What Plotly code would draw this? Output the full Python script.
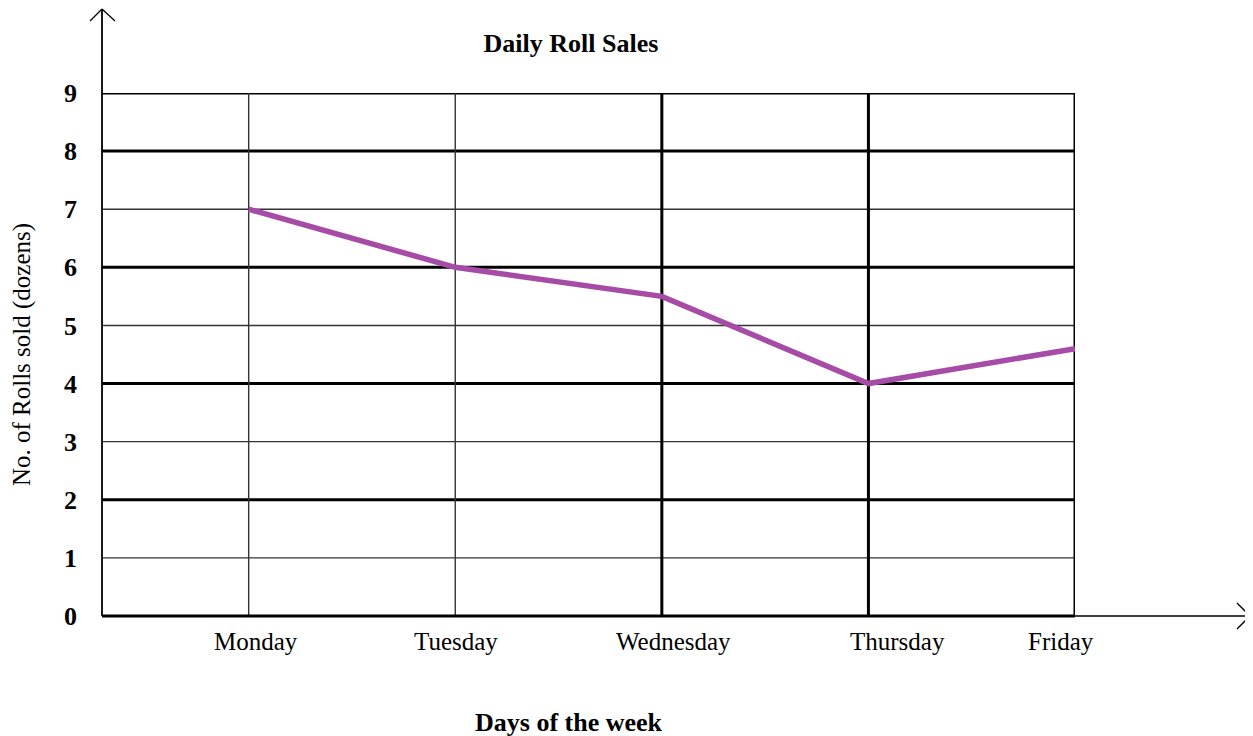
import plotly.graph_objects as go

days = ["Monday", "Tuesday", "Wednesday", "Thursday", "Friday"]
rolls = [7, 6, 5.5, 4, 4.6]
y_ticks = [0, 1, 2, 3, 4, 5, 6, 7, 8, 9]

# page has an 8px body margin, so work in shifted coordinates
OFF = 8
W, H = 1253 - OFF, 736 - OFF
L, R, T, B = 102 - OFF, 1075 - OFF, 93 - OFF, 616 - OFF
pw, ph = R - L, B - T

def px(x):
    return (x - OFF - L) / pw

def py(y):
    return (B - (y - OFF)) / ph

XRANGE = [-0.71, 4]

fig = go.Figure()
fig.add_trace(go.Scatter(
    x=days, y=rolls, mode="lines",
    line=dict(color="#A64CA6", width=5.5),
    showlegend=False, hoverinfo="x+y",
))

shapes = []
thick_y = {0, 2, 4, 6, 8, 9}
for v in y_ticks:
    if v == 0:
        continue
    shapes.append(dict(type="line", xref="paper", yref="y", x0=0, x1=1, y0=v, y1=v,
                       line=dict(color="black" if v in thick_y else "#333", width=3 if v in thick_y else 1.4),
                       layer="below"))
thick_x = {"Wednesday", "Thursday", "Friday"}
for d in days:
    shapes.append(dict(type="line", xref="x", yref="paper", x0=d, x1=d, y0=0, y1=1,
                       line=dict(color="black" if d in thick_x else "#333", width=3 if d in thick_x else 1.4),
                       layer="below"))
# x axis (bottom) thick
shapes.append(dict(type="line", xref="paper", yref="paper", x0=0, x1=1, y0=0, y1=0,
                   line=dict(color="black", width=3.2)))
# extension of x axis with arrow
shapes.append(dict(type="line", xref="paper", yref="paper", x0=1, x1=px(1250), y0=0, y1=0,
                   line=dict(color="black", width=1.3)))
shapes.append(dict(type="line", xref="paper", yref="paper", x0=px(1250), x1=px(1237), y0=0, y1=py(603),
                   line=dict(color="black", width=1.3)))
shapes.append(dict(type="line", xref="paper", yref="paper", x0=px(1250), x1=px(1237), y0=0, y1=py(629),
                   line=dict(color="black", width=1.3)))
# y axis with arrow
shapes.append(dict(type="line", xref="paper", yref="paper", x0=0, x1=0, y0=0, y1=py(9),
                   line=dict(color="black", width=1.8)))
shapes.append(dict(type="line", xref="paper", yref="paper", x0=0, x1=px(90), y0=py(9), y1=py(21),
                   line=dict(color="black", width=1.3)))
shapes.append(dict(type="line", xref="paper", yref="paper", x0=0, x1=px(115), y0=py(9), y1=py(21),
                   line=dict(color="black", width=1.3)))

font = "Liberation Serif, Times New Roman, serif"

# x category labels as annotations (the original labels are slightly off their gridlines)
label_shift = [7, 1, 12, 29, -14]
annotations = []
for d, s in zip(days, label_shift):
    annotations.append(dict(x=d, xref="x", y=py(641), yref="paper", text=d, showarrow=False,
                            xanchor="center", yanchor="middle", xshift=s,
                            font=dict(family=font, size=25, color="black")))
annotations.append(dict(x=px(569), xref="paper", y=py(722), yref="paper", text="<b>Days of the week</b>",
                        showarrow=False, xanchor="center", yanchor="middle",
                        font=dict(family=font, size=26, color="black")))

fig.update_layout(
    width=W, height=H,
    margin=dict(l=L, r=W - R, t=T, b=H - B, pad=0),
    plot_bgcolor="white", paper_bgcolor="white",
    shapes=shapes,
    annotations=annotations,
    title=dict(text="<b>Daily Roll Sales</b>", x=px(571), xref="paper", xanchor="center",
               y=1 - (43 - OFF) / H, yanchor="middle", font=dict(family=font, size=26, color="black")),
    xaxis=dict(type="category", range=XRANGE, showgrid=False, zeroline=False, showline=False,
               ticks="", showticklabels=False),
    yaxis=dict(range=[0, 9], tickvals=y_ticks, ticktext=[f"<b>{v}</b>" for v in y_ticks],
               showgrid=False, zeroline=False, showline=False, ticks="",
               tickfont=dict(family=font, size=26, color="black"), ticklabelstandoff=24,
               title=dict(text="No. of Rolls sold (dozens)", font=dict(family=font, size=25, color="black"),
                          standoff=26)),
)
fig.write_html("out.html")
